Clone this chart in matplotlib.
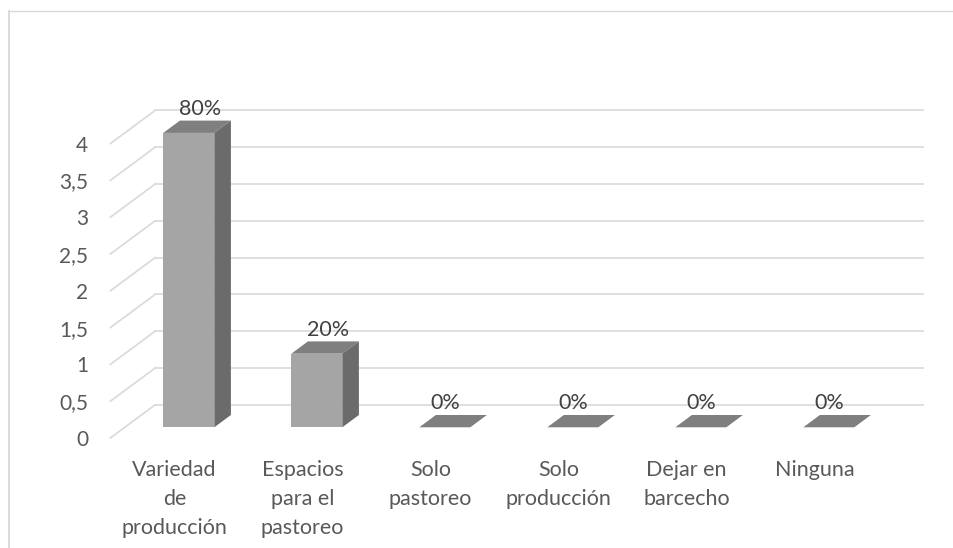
import numpy as np
import matplotlib.pyplot as plt
from matplotlib.patches import Polygon
from matplotlib.lines import Line2D

plt.rcParams['font.family'] = ['Lato', 'DejaVu Sans']

categories = ['Variedad\nde\nproducción', 'Espacios\npara el\npastoreo', 'Solo\npastoreo',
              'Solo\nproducción', 'Dejar en\nbarcecho', 'Ninguna']
values = [4, 1, 0, 0, 0, 0]
pct_labels = ['80%', '20%', '0%', '0%', '0%', '0%']
yticks = np.arange(0, 4.01, 0.5)
ytick_labels = ['0', '0,5', '1', '1,5', '2', '2,5', '3', '3,5', '4']

W, H = 954, 548
px_cat = 128.0      # pixels per category
px_val = 73.6       # pixels per value unit
x0_px, y0_px = 124.8, 427.3   # front-face origin in pixels
slant = 1.35        # horizontal shift per pixel of depth
bar_w = 51 / px_cat
bar_depth = 12.3
wall_depth = 22.6
floor_depth = -10.7

front_col = '#A5A5A5'
side_col = '#6B6B6B'
top_col = '#7F7F7F'
grid_col = '#D9D9D9'
text_col = '#595959'


def proj(x, y, d):
    # oblique projection: depth d in pixels
    return x + d * slant / px_cat, y + d / px_val


fig = plt.figure(figsize=(W / 100, H / 100), dpi=100)
ax = fig.add_axes([0, 0, 1, 1])
ax.set_xlim(-x0_px / px_cat, (W - x0_px) / px_cat)
ax.set_ylim(-(H - y0_px) / px_val, y0_px / px_val)
ax.axis('off')

n = len(categories)

# gridlines: back wall + left floor diagonals
for v, lab in zip(yticks, ytick_labels):
    bx0, by = proj(0, v, wall_depth)
    bx1, _ = proj(n, v, wall_depth)
    ax.plot([bx0, bx1], [by, by], color=grid_col, lw=1.2, zorder=1)
    fx, fy = proj(0, v, floor_depth)
    ax.plot([fx, bx0], [fy, by], color=grid_col, lw=1.2, zorder=1)
    ax.annotate(lab, (fx, fy), xytext=(-22, 0), textcoords='offset pixels',
                ha='right', va='center_baseline', fontsize=15, color=text_col)

# bars
xs = np.arange(n) + 0.5
ax.bar(xs, values, width=bar_w, color=front_col, linewidth=0, zorder=3)
for x, v, lab, cat in zip(xs, values, pct_labels, categories):
    xl, xr = x - bar_w / 2, x + bar_w / 2
    top = [proj(xl, v, 0), proj(xr, v, 0), proj(xr, v, bar_depth), proj(xl, v, bar_depth)]
    ax.add_patch(Polygon(top, closed=True, facecolor=top_col, edgecolor='none', zorder=3))
    if v > 0:
        side = [proj(xr, 0, 0), proj(xr, v, 0), proj(xr, v, bar_depth), proj(xr, 0, bar_depth)]
        ax.add_patch(Polygon(side, closed=True, facecolor=side_col, edgecolor='none', zorder=3))
        lx, _ = proj(x, v, bar_depth * 0.65)
    else:
        lx, _ = proj(x, v, 0)
    _, ly = proj(x, v, bar_depth)
    ax.annotate(lab, (lx, ly), xytext=(0, 5.7), textcoords='offset pixels',
                ha='center', va='baseline', fontsize=15.5, color='#404040', zorder=4)
    cx, cy = proj(x, 0, floor_depth)
    ax.annotate(cat, (cx, cy), xytext=(0, -22), textcoords='offset pixels',
                ha='center', va='top', fontsize=15.5, color=text_col, linespacing=1.55)

# chart frame (top and left edges)
fig.add_artist(Line2D([8.5 / W, 953 / W], [1 - 10.5 / H, 1 - 10.5 / H],
                      color=grid_col, lw=1.0, transform=fig.transFigure))
fig.add_artist(Line2D([8.8 / W, 8.8 / W], [0, 1 - 10.5 / H],
                      color=grid_col, lw=1.3, transform=fig.transFigure))

fig.savefig('out.png', dpi=100)
